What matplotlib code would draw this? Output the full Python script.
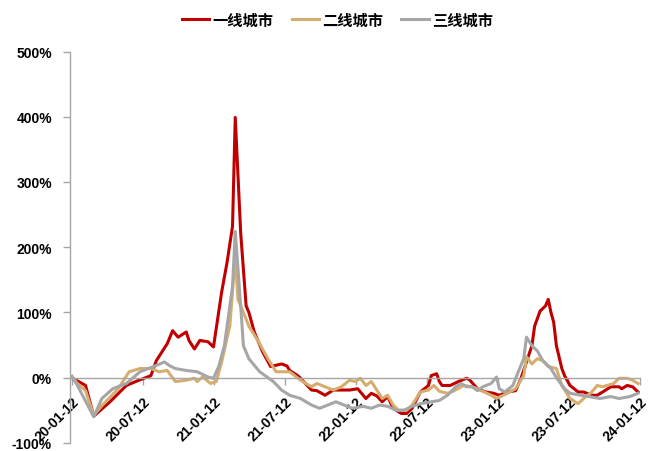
import numpy as np
import pandas as pd
import matplotlib
matplotlib.use("Agg")
import matplotlib.pyplot as plt
import matplotlib.dates as mdates
from matplotlib.ticker import FuncFormatter

plt.rcParams["font.family"] = ["Liberation Sans", "Noto Sans CJK SC", "DejaVu Sans"]
plt.rcParams["font.weight"] = "bold"

start = pd.Timestamp("2020-01-12")

# week index since 2020-01-12, value in %
tier1_wk = [0, 2, 5, 8, 14, 20, 24, 29, 31, 35, 37, 39, 42, 43, 45, 47, 50, 52, 53, 55, 57, 59, 60,
            62, 64, 65, 67, 70, 73, 77, 79, 80, 83, 84, 88, 90, 93, 96, 99, 102, 105, 108, 110, 112,
            114, 116, 118, 121, 123, 125, 128, 131, 132, 134, 135, 136, 139, 142, 145, 146, 149, 152,
            155, 157, 160, 163, 165, 167, 169, 170, 172, 174, 175, 176, 177, 178, 180, 181, 183, 186,
            188, 191, 193, 195, 198, 201, 202, 204, 206, 208]
tier1_val = [0, -5, -12, -59, -37, -12, -5, 3, 26, 52, 72, 62, 70, 57, 44, 57, 55, 47, 75, 131, 177,
             232, 399, 222, 110, 100, 70, 40, 17, 21, 18, 11, 3, -1, -19, -20, -27, -19, -19, -19,
             -17, -32, -24, -28, -37, -29, -47, -55, -55, -47, -22, -12, 3, 6, -6, -12, -12, -6, -1,
             -3, -17, -22, -24, -27, -22, -20, -1, 24, 49, 79, 102, 110, 120, 100, 85, 49, 14, 3,
             -12, -22, -22, -27, -27, -22, -14, -14, -17, -12, -14, -22]

tier2_wk = [0, 2, 5, 8, 11, 17, 21, 25, 29, 32, 35, 38, 42, 45, 46, 48, 51, 53, 55, 58, 60, 61, 63,
            65, 68, 72, 75, 80, 84, 88, 90, 93, 96, 99, 102, 104, 106, 108, 110, 112, 114, 116, 118,
            120, 123, 125, 128, 131, 133, 135, 138, 140, 144, 147, 149, 151, 154, 156, 160, 163, 166,
            167, 169, 171, 173, 175, 178, 180, 183, 186, 188, 191, 193, 195, 199, 201, 204, 206, 208]
tier2_val = [2, -9, -20, -58, -43, -17, 9, 14, 14, 9, 11, -6, -4, -1, -6, 1, -9, -6, 24, 79, 186,
             120, 100, 79, 59, 29, 9, 9, -4, -14, -9, -14, -19, -14, -4, -6, -1, -12, -6, -19, -32,
             -27, -42, -50, -50, -42, -22, -19, -12, -21, -24, -21, -12, -14, -17, -21, -27, -32,
             -24, -17, 3, 32, 21, 29, 26, 17, 14, -12, -32, -40, -32, -22, -12, -14, -9, -1, -1, -4,
             -9]

tier3_wk = [0, 2, 8, 11, 15, 20, 25, 30, 34, 36, 38, 42, 46, 50, 52, 54, 56, 59, 60, 62, 63, 65,
            69, 74, 77, 80, 84, 88, 91, 94, 97, 100, 103, 107, 110, 113, 116, 119, 122, 125, 128,
            132, 135, 138, 141, 143, 145, 147, 149, 151, 154, 156, 157, 159, 162, 164, 166, 167,
            169, 171, 173, 176, 178, 181, 183, 187, 190, 194, 198, 201, 205, 208]
tier3_val = [2, -12, -60, -32, -17, -9, 9, 17, 24, 18, 14, 11, 9, 1, -1, 18, 49, 140, 224, 110, 49,
             29, 9, -6, -19, -27, -32, -42, -47, -42, -37, -42, -47, -44, -47, -42, -44, -50, -50,
             -44, -40, -37, -35, -27, -14, -9, -14, -14, -20, -14, -9, 1, -17, -22, -12, 9, 29, 62,
             49, 41, 26, 14, 0, -17, -24, -27, -29, -32, -29, -32, -29, -24]

series = [
    ("一线城市", tier1_wk, tier1_val, "#C00000"),
    ("二线城市", tier2_wk, tier2_val, "#D6AD6E"),
    ("三线城市", tier3_wk, tier3_val, "#A6A6A6"),
]

tick_dates = ["2020-01-12", "2020-07-12", "2021-01-12", "2021-07-12", "2022-01-12",
              "2022-07-12", "2023-01-12", "2023-07-12", "2024-01-12"]

fig = plt.figure(figsize=(6.5, 4.52), dpi=100)
ax = fig.add_axes([0.1077, 0.018, 0.8769, 0.8658])

for name, wk, val, col in series:
    dates = start + pd.to_timedelta(np.array(wk) * 7, unit="D")
    ax.plot(dates, val, color=col, lw=2.2, label=name)

ax.set_ylim(-100, 500)
ax.set_yticks(range(-100, 501, 100))
ax.yaxis.set_major_formatter(FuncFormatter(lambda v, p: f"{v:.0f}%"))
ax.set_xlim(pd.Timestamp("2020-01-07"), pd.Timestamp("2024-01-12"))
ax.set_xticks(pd.to_datetime(tick_dates))
ax.xaxis.set_major_formatter(mdates.DateFormatter("%y-%m-%d"))

ax.spines["top"].set_visible(False)
ax.spines["right"].set_visible(False)
ax.spines["bottom"].set_position(("data", 0))
for s in ["left", "bottom"]:
    ax.spines[s].set_color("#A6A6A6")
    ax.spines[s].set_linewidth(1.0)
ax.tick_params(axis="both", colors="#A6A6A6", length=5, width=1.0, direction="out")
ax.tick_params(axis="y", labelcolor="black", labelsize=10, pad=8)
ax.tick_params(axis="x", labelcolor="black", labelsize=10, pad=7)
for lab in ax.get_xticklabels():
    lab.set_rotation(45)
    lab.set_ha("right")
    lab.set_va("top")
    lab.set_rotation_mode("anchor")
for lab in ax.get_xticklabels() + ax.get_yticklabels():
    lab.set_fontweight("bold")

leg = fig.legend(loc="center", bbox_to_anchor=(0.519, 0.955), ncol=3, frameon=False,
                 handlelength=1.8, handletextpad=0.2, columnspacing=1.2,
                 prop={"family": ["Noto Sans CJK SC"], "weight": "bold", "size": 11})

fig.savefig("out.png", dpi=100)
